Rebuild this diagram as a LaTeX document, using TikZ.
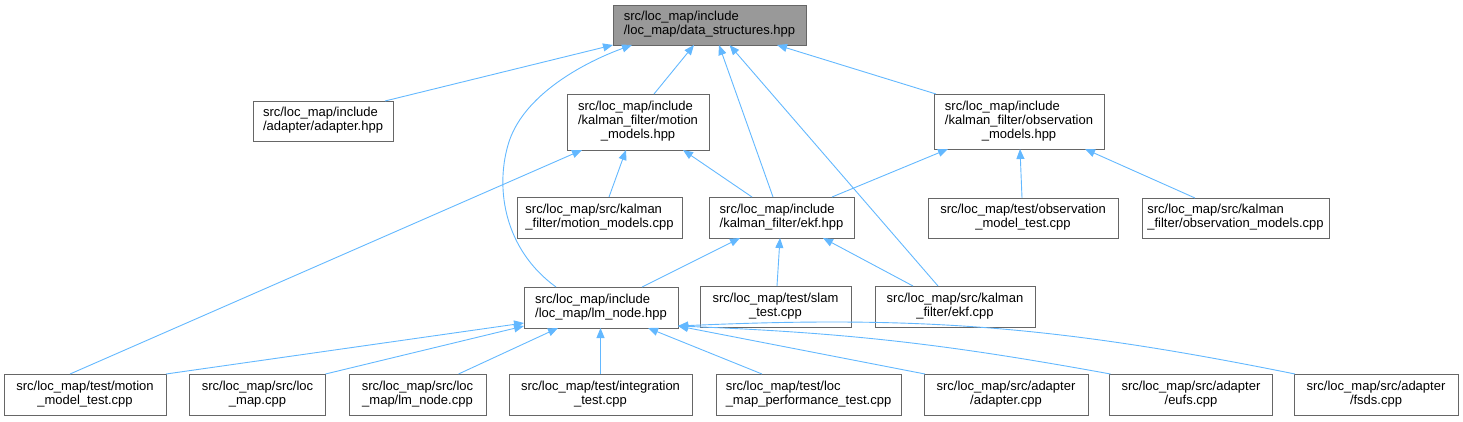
\documentclass[tikz,border=0pt]{standalone}
\usepackage{fontspec}
\setmainfont{Liberation Sans}
\usetikzlibrary{arrows.meta,calc}
\definecolor{boxline}{HTML}{666666}
\definecolor{rootfill}{HTML}{999999}
\definecolor{edgecol}{HTML}{63B8FF}
\newcommand\labII[2]{\begin{tabular}{@{}l@{}}#1\\\multicolumn{1}{@{}c@{}}{#2}\end{tabular}}
\newcommand\labIII[3]{\begin{tabular}{@{}l@{}}#1\\#2\\\multicolumn{1}{@{}c@{}}{#3}\end{tabular}}
\begin{document}
\begin{tikzpicture}[x=1pt,y=-1pt,
  filebox/.style={draw=boxline,fill=white,line width=1pt,inner sep=0pt,outer sep=0pt,
    font=\fontsize{13}{14}\selectfont},
  rootbox/.style={filebox,fill=rootfill},
  edge/.style={draw=edgecol,line width=0.9pt,-{Triangle[length=10pt,width=8pt]}}]
\useasboundingbox (0,0) rectangle (1463,421);
% row 1
\node[rootbox,minimum width=193pt,minimum height=40pt] (root) at (709.5,25) {\labII{src/loc\_map/include}{/loc\_map/data\_structures.hpp}};
% row 2
\node[filebox,minimum width=140pt,minimum height=40pt] (adh) at (323,121) {\labII{src/loc\_map/include}{/adapter/adapter.hpp}};
\node[filebox,minimum width=142pt,minimum height=56pt] (mm) at (638,122) {\labIII{src/loc\_map/include}{/kalman\_filter/motion}{\_models.hpp}};
\node[filebox,minimum width=170pt,minimum height=55pt] (obs) at (1019,121.5) {\labIII{src/loc\_map/include}{/kalman\_filter/observation}{\_models.hpp}};
% row 3
\node[filebox,minimum width=165pt,minimum height=41pt] (mmcpp) at (599.5,217.5) {\labII{src/loc\_map/src/kalman}{\_filter/motion\_models.cpp}};
\node[filebox,minimum width=145pt,minimum height=41pt] (ekf) at (781.5,217.5) {\labII{src/loc\_map/include}{/kalman\_filter/ekf.hpp}};
\node[filebox,minimum width=190pt,minimum height=40pt] (obstest) at (1023,218) {\labII{src/loc\_map/test/observation}{\_model\_test.cpp}};
\node[filebox,minimum width=187pt,minimum height=40pt] (obscpp) at (1235.5,218) {\labII{src/loc\_map/src/kalman}{\_filter/observation\_models.cpp}};
% row 4
\node[filebox,minimum width=154pt,minimum height=41pt] (lm) at (601,307.5) {\labII{src/loc\_map/include}{/loc\_map/lm\_node.hpp}};
\node[filebox,minimum width=151pt,minimum height=41pt] (slam) at (775.5,306.5) {\labII{src/loc\_map/test/slam}{\_test.cpp}};
\node[filebox,minimum width=160pt,minimum height=41pt] (ekfcpp) at (955,306.5) {\labII{src/loc\_map/src/kalman}{\_filter/ekf.cpp}};
% row 5
\node[filebox,minimum width=162pt,minimum height=41pt] (mmt) at (85,394.5) {\labII{src/loc\_map/test/motion}{\_model\_test.cpp}};
\node[filebox,minimum width=136pt,minimum height=41pt] (locmap) at (257.5,394.5) {\labII{src/loc\_map/src/loc}{\_map.cpp}};
\node[filebox,minimum width=137pt,minimum height=41pt] (lmnode) at (417.5,394.5) {\labII{src/loc\_map/src/loc}{\_map/lm\_node.cpp}};
\node[filebox,minimum width=183pt,minimum height=41pt] (integ) at (600.5,394.5) {\labII{src/loc\_map/test/integration}{\_test.cpp}};
\node[filebox,minimum width=185pt,minimum height=41pt] (perf) at (808.5,394.5) {\labII{src/loc\_map/test/loc}{\_map\_performance\_test.cpp}};
\node[filebox,minimum width=164pt,minimum height=41pt] (adcpp) at (1006,394.5) {\labII{src/loc\_map/src/adapter}{/adapter.cpp}};
\node[filebox,minimum width=163pt,minimum height=41pt] (eufs) at (1191,394.5) {\labII{src/loc\_map/src/adapter}{/eufs.cpp}};
\node[filebox,minimum width=164pt,minimum height=41pt] (fsds) at (1376,394.5) {\labII{src/loc\_map/src/adapter}{/fsds.cpp}};
% edges to root
\draw[edge] ($(adh.north east)+(-8,0)$) -- (root.south west);
\draw[edge] ($(lm.north)+(-45,0)$) .. controls (505,250) and (495,190) .. (508,145) .. controls (522,95) and (585,62) .. ($(root.south west)+(19,0)$);
\draw[edge] ($(mm.north)+(16,0)$) -- ($(root.south)+(-15.5,0)$);
\draw[edge] ($(ekf.north)+(-8.5,0)$) -- ($(root.south)+(9.5,0)$);
\draw[edge] ($(ekfcpp.north)+(-17,0)$) -- ($(root.south)+(20,0)$);
\draw[edge] ($(obs.north west)+(2,0)$) -- ($(root.south)+(67.5,0)$);
% edges to motion models hpp
\draw[edge] ($(ekf.north)+(-29.5,0)$) -- ($(mm.south)+(45,0)$);
\draw[edge] ($(mmcpp.north)+(9.5,0)$) -- ($(mm.south)+(-12,0)$);
\draw[edge] ($(mmt.north)+(-15,0)$) -- ($(mm.south)+(-56,0)$);
% edges to observation models hpp
\draw[edge] ($(ekf.north)+(50.5,0)$) -- ($(obs.south)+(-71,0)$);
\draw[edge] ($(obstest.north)+(-1,0)$) -- ($(obs.south)+(1,0)$);
\draw[edge] ($(obscpp.north)+(-40.5,0)$) -- ($(obs.south)+(66,0)$);
% edges to ekf hpp
\draw[edge] ($(lm.north)+(41,0)$) -- ($(ekf.south)+(-41.5,0)$);
\draw[edge] ($(slam.north)+(1.5,0)$) -- ($(ekf.south)+(-1.5,0)$);
\draw[edge] ($(ekfcpp.north)+(-42,0)$) -- ($(ekf.south)+(41.5,0)$);
% edges to lm_node hpp
\draw[edge] (mmt.north east) -- ($(lm.south west)+(0,-5)$);
\draw[edge] (locmap.north east) -- ($(lm.south west)+(0,-2)$);
\draw[edge] ($(lmnode.north)+(41,0)$) -- ($(lm.south)+(-43,0)$);
\draw[edge] (integ.north) -- ($(lm.south)+(-0.5,0)$);
\draw[edge] ($(perf.north)+(-46.5,0)$) -- ($(lm.south)+(47,0)$);
\draw[edge] ($(adcpp.north west)+(1,0)$) -- ($(lm.south east)+(0,-2)$);
\draw[edge] ($(eufs.north west)+(1,0)$) to[bend right=4] ($(lm.south east)+(0,-2)$);
\draw[edge] ($(fsds.north west)+(1,0)$) to[bend right=7] ($(lm.south east)+(0,-2)$);
\end{tikzpicture}
\end{document}
